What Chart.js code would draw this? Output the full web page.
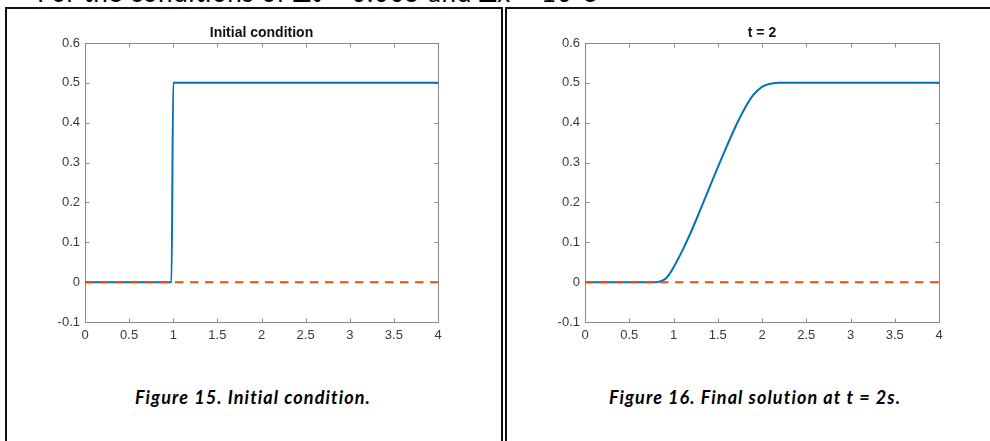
<!DOCTYPE html>
<html>
<head>
<meta charset="utf-8">
<script src="https://cdn.jsdelivr.net/npm/chart.js@4.4.1/dist/chart.umd.min.js"></script>
<style>
  body { margin: 0; background: #fff; width: 990px; height: 441px; overflow: hidden; position: relative; }
  .cell { position: absolute; top: 7px; height: 470px; border: 2px solid #111; box-sizing: border-box; }
  #cellLeft { left: 5px; width: 498px; }
  #cellRight { left: 505px; width: 520px; }
  #topline { position: absolute; left: 37px; top: -20px; font: 26px Lato, sans-serif; letter-spacing: 0.6px; color: #000; white-space: nowrap; line-height: 24px; }
  .caption { position: absolute; top: 386px; width: 500px; text-align: center; font: italic bold 18px Lato, sans-serif; letter-spacing: 1.1px; color: #000; }
  #capLeft { left: 3px; }
  #capRight { left: 505px; }
  canvas { position: absolute; top: 0; }
  #chartLeft { left: 0; }
  #chartRight { left: 500px; }
</style>
</head>
<body>
<div id="topline">For the conditions of Δt = 0.005 and Δx = 10-3</div>
<div class="cell" id="cellLeft"></div>
<div class="cell" id="cellRight"></div>
<canvas id="chartLeft" width="500" height="360"></canvas>
<canvas id="chartRight" width="490" height="360"></canvas>
<div class="caption" id="capLeft">Figure 15. Initial condition.</div>
<div class="caption" id="capRight">Figure 16. Final solution at t = 2s.</div>
<script>
// axis ticks
const xTickValues = [0, 0.5, 1, 1.5, 2, 2.5, 3, 3.5, 4];
const xTickLabels = ['0', '0.5', '1', '1.5', '2', '2.5', '3', '3.5', '4'];
const yTickValues = [-0.1, 0, 0.1, 0.2, 0.3, 0.4, 0.5, 0.6];
const yTickLabels = ['-0.1', '0', '0.1', '0.2', '0.3', '0.4', '0.5', '0.6'];

// initial condition (step)
const initX = [0, 0.98, 1.0, 4];
const initY = [0, 0, 0.5, 0.5];

// solution at t = 2
const solX = [0, 0.8, 0.85, 0.9, 0.95, 1.0, 1.1, 1.2, 1.3, 1.4, 1.5, 1.6, 1.7, 1.8, 1.9, 2.0, 2.1, 2.2, 2.3, 4];
const solY = [0, 0, 0.002, 0.007, 0.019, 0.037, 0.079, 0.127, 0.18, 0.234, 0.288, 0.34, 0.39, 0.434, 0.469, 0.49, 0.498, 0.5, 0.5, 0.5];

// zero reference (dashed)
const zeroX = [0, 4];
const zeroY = [0, 0];

const toPoints = (xs, ys) => xs.map((x, i) => ({ x: x, y: ys[i] }));

// MATLAB-ish axes box, inward ticks and title
const matlabAxes = {
  id: 'matlabAxes',
  beforeDatasetsDraw(chart, args, opts) {
    const { ctx, chartArea: a, scales } = chart;
    const l = Math.round(a.left) + 0.5, r = Math.round(a.right) + 0.5;
    const t = Math.round(a.top) + 0.5, b = Math.round(a.bottom) + 0.5;
    ctx.save();
    ctx.strokeStyle = '#8a8a8a';
    ctx.lineWidth = 1;
    ctx.strokeRect(l, t, r - l, b - t);
    ctx.beginPath();
    scales.x.ticks.forEach(tk => {
      const px = Math.round(scales.x.getPixelForValue(tk.value)) + 0.5;
      ctx.moveTo(px, b); ctx.lineTo(px, b - 4);
      ctx.moveTo(px, t); ctx.lineTo(px, t + 4);
    });
    scales.y.ticks.forEach(tk => {
      const py = Math.round(scales.y.getPixelForValue(tk.value)) + 0.5;
      ctx.moveTo(l, py); ctx.lineTo(l + 4, py);
      ctx.moveTo(r, py); ctx.lineTo(r - 4, py);
    });
    ctx.stroke();
    ctx.fillStyle = '#111';
    ctx.font = 'bold 14px "Liberation Sans", Arial, sans-serif';
    ctx.textAlign = 'center';
    ctx.textBaseline = 'middle';
    ctx.fillText(opts.text, (a.left + a.right) / 2, 33);
    ctx.restore();
  }
};

function makeChart(id, title, lineX, lineY, padRight) {
  const ctx = document.getElementById(id).getContext('2d');
  return new Chart(ctx, {
    type: 'line',
    data: {
      datasets: [
        {
          data: toPoints(lineX, lineY),
          borderColor: '#0072BD',
          borderWidth: 2,
          pointRadius: 0,
          cubicInterpolationMode: 'monotone',
          order: 1
        },
        {
          data: toPoints(zeroX, zeroY),
          borderColor: '#D95319',
          borderWidth: 2,
          borderDash: [8.5, 6.5],
          pointRadius: 0,
          order: 0
        }
      ]
    },
    options: {
      responsive: false,
      animation: false,
      layout: { padding: { left: 0, top: 43, right: padRight, bottom: 0 } },
      plugins: {
        legend: { display: false },
        tooltip: { enabled: false },
        matlabAxes: { text: title }
      },
      scales: {
        x: {
          type: 'linear',
          min: 0,
          max: 4,
          afterBuildTicks: s => { s.ticks = xTickValues.map(v => ({ value: v })); },
          afterFit: s => { s.height = 38; },
          grid: { display: false, drawTicks: false },
          border: { display: false },
          ticks: {
            padding: 6,
            maxRotation: 0,
            autoSkip: false,
            color: '#3a3a3a',
            font: { family: '"Liberation Sans", Arial, sans-serif', size: 13 },
            callback: (v, i) => xTickLabels[i]
          }
        },
        y: {
          type: 'linear',
          min: -0.1,
          max: 0.6,
          afterBuildTicks: s => { s.ticks = yTickValues.map(v => ({ value: v })); },
          afterFit: s => { s.width = 85; },
          grid: { display: false, drawTicks: false },
          border: { display: false },
          ticks: {
            padding: 5,
            autoSkip: false,
            color: '#3a3a3a',
            font: { family: '"Liberation Sans", Arial, sans-serif', size: 13 },
            callback: (v, i) => yTickLabels[i]
          }
        }
      }
    },
    plugins: [matlabAxes]
  });
}

makeChart('chartLeft', 'Initial condition', initX, initY, 62);
makeChart('chartRight', 't = 2', solX, solY, 51);
</script>
</body>
</html>
